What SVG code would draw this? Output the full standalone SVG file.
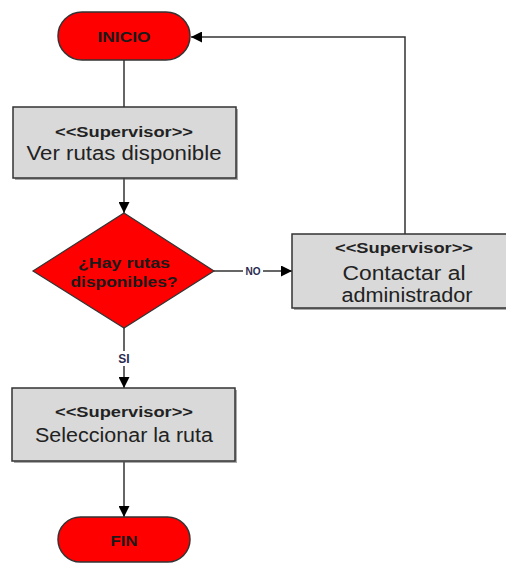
<svg xmlns="http://www.w3.org/2000/svg" width="506" height="563" viewBox="0 0 506 563">
  <defs>
    <marker id="arrow" viewBox="0 0 10 10" refX="10" refY="5" markerWidth="11" markerHeight="11" markerUnits="userSpaceOnUse" orient="auto">
      <path d="M0,0 L10,5 L0,10 z" fill="#000"/>
    </marker>
  </defs>
  <style>
    .term { fill: #ff0000; stroke: #333; stroke-width: 1.5; }
    .box { fill: #d9d9d9; stroke: #333; stroke-width: 1.5; }
    .shadow { fill: #555; opacity: 0.5; }
    .dec { fill: #ff0000; stroke: #333; stroke-width: 1.2; }
    .edge { fill: none; stroke: #333; stroke-width: 1.5; }
    text { font-family: "Liberation Sans", Arial, sans-serif; text-anchor: middle; }
    .tbold { font-weight: bold; fill: #1a1a1a; }
    .stereo { font-weight: bold; font-size: 14px; fill: #222; }
    .label { font-size: 20px; fill: #222; }
    .elabel { font-weight: bold; fill: #2a2a50; }
  </style>

  <!-- connectors -->
  <g id="connectors">
    <line class="edge" x1="124" y1="60" x2="124" y2="107"/>
    <line class="edge" x1="124" y1="178" x2="124" y2="213" marker-end="url(#arrow)"/>
    <line class="edge" x1="214" y1="271" x2="292" y2="271" marker-end="url(#arrow)"/>
    <polyline class="edge" points="405,234 405,37 191,37" marker-end="url(#arrow)"/>
    <line class="edge" x1="124" y1="328" x2="124" y2="388" marker-end="url(#arrow)"/>
    <line class="edge" x1="124" y1="462" x2="124" y2="517" marker-end="url(#arrow)"/>
    <rect x="243" y="265" width="20" height="12" fill="#fff"/>
    <text class="elabel" x="253" y="275" font-size="10">NO</text>
    <rect x="116" y="351" width="16" height="15" fill="#fff"/>
    <text class="elabel" x="124" y="363" font-size="12">SI</text>
  </g>

  <g id="inicio">
    <rect class="term" x="58" y="12" width="132" height="48" rx="24"/>
    <text class="tbold" x="124" y="42" font-size="15.5" textLength="53" lengthAdjust="spacingAndGlyphs">INICIO</text>
  </g>

  <g id="ver-rutas">
    <rect class="shadow" x="15" y="109" width="223" height="71"/>
    <rect class="box" x="13" y="107" width="223" height="71"/>
    <text class="stereo" x="124" y="137" textLength="138" lengthAdjust="spacingAndGlyphs">&lt;&lt;Supervisor&gt;&gt;</text>
    <text class="label" x="124" y="160" textLength="195" lengthAdjust="spacingAndGlyphs">Ver rutas disponible</text>
  </g>

  <g id="hay-rutas">
    <polygon class="dec" points="124,213 214,271 124,328 33,271"/>
    <text class="tbold" x="124" y="268" font-size="14.5" textLength="92" lengthAdjust="spacingAndGlyphs">¿Hay rutas</text>
    <text class="tbold" x="124" y="287" font-size="14.5" textLength="107" lengthAdjust="spacingAndGlyphs">disponibles?</text>
  </g>

  <g id="contactar">
    <rect class="shadow" x="294" y="236" width="226" height="74"/>
    <rect class="box" x="292" y="234" width="226" height="74"/>
    <text class="stereo" x="404" y="253" textLength="138" lengthAdjust="spacingAndGlyphs">&lt;&lt;Supervisor&gt;&gt;</text>
    <text class="label" x="404" y="280" textLength="123" lengthAdjust="spacingAndGlyphs">Contactar al</text>
    <text class="label" x="407" y="302" textLength="131" lengthAdjust="spacingAndGlyphs">administrador</text>
  </g>

  <g id="seleccionar">
    <rect class="shadow" x="14" y="390" width="223" height="73"/>
    <rect class="box" x="12" y="388" width="223" height="73"/>
    <text class="stereo" x="124" y="417" textLength="138" lengthAdjust="spacingAndGlyphs">&lt;&lt;Supervisor&gt;&gt;</text>
    <text class="label" x="124" y="442" textLength="178" lengthAdjust="spacingAndGlyphs">Seleccionar la ruta</text>
  </g>

  <g id="fin">
    <rect class="term" x="58" y="517" width="132" height="45" rx="22.5"/>
    <text class="tbold" x="124" y="546" font-size="15" textLength="27" lengthAdjust="spacingAndGlyphs">FIN</text>
  </g>
</svg>
